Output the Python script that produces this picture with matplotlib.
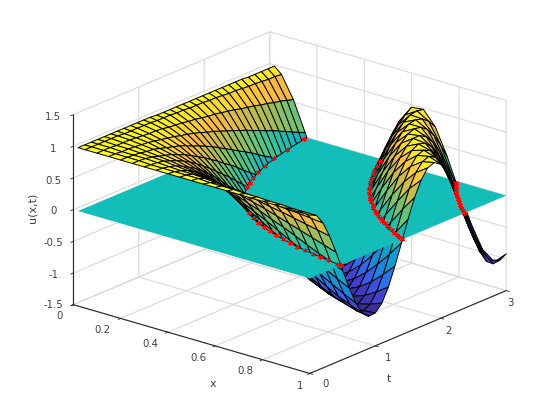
import numpy as np
import matplotlib
matplotlib.use("Agg")
import matplotlib.pyplot as plt
from matplotlib.colors import LinearSegmentedColormap, Normalize
from matplotlib.text import Text
from matplotlib.transforms import Affine2D
from mpl_toolkits.mplot3d.art3d import Poly3DCollection

x_values = [0.02, 0.05, 0.10, 0.15, 0.20, 0.25, 0.30, 0.35, 0.40, 0.45, 0.50,
            0.55, 0.60, 0.65, 0.70, 0.75, 0.80, 0.85, 0.90, 0.95, 1.00]
t_values = [0.0, 0.1, 0.2, 0.3, 0.4, 0.5, 0.6, 0.7, 0.8, 0.9, 1.0, 1.1, 1.2, 1.3, 1.4, 1.5,
            1.6, 1.7, 1.8, 1.9, 2.0, 2.1, 2.2, 2.3, 2.4, 2.5, 2.6, 2.7, 2.8, 2.9, 3.0]
# one row per t, one column per x
u_values = [
 [1,1,1,1,1,1,1,1,1,1,1,1,1,1,1,1,1,1,1,1,1],
 [1,1,1,1,1,1,.99,.99,.99,.99,.99,.98,.98,.98,.97,.97,.96,.96,.95,.95,.95],
 [1,1,1,.99,.99,.99,.98,.97,.96,.96,.95,.93,.92,.91,.89,.88,.86,.84,.83,.81,.79],
 [1,1,.99,.99,.98,.97,.96,.94,.92,.90,.88,.85,.83,.80,.77,.73,.70,.66,.62,.58,.54],
 [1,1,.99,.98,.96,.94,.92,.89,.86,.83,.79,.74,.70,.65,.60,.54,.48,.42,.36,.30,.24],
 [1,1,.99,.97,.95,.91,.88,.83,.79,.73,.67,.61,.54,.47,.39,.32,.24,.15,.07,-.01,-.09],
 [1,.99,.98,.96,.92,.88,.83,.77,.70,.62,.54,.45,.36,.27,.17,.07,-.03,-.13,-.22,-.32,-.41],
 [1,.99,.97,.94,.89,.83,.77,.69,.60,.50,.39,.28,.17,.06,-.06,-.18,-.29,-.40,-.50,-.60,-.69],
 [1,.99,.96,.92,.86,.79,.70,.60,.48,.36,.24,.10,-.03,-.16,-.29,-.41,-.53,-.64,-.74,-.82,-.89],
 [1,.99,.96,.90,.83,.73,.62,.50,.36,.22,.07,-.08,-.22,-.37,-.50,-.63,-.74,-.83,-.90,-.96,-.99],
 [1,.99,.95,.88,.79,.67,.54,.39,.24,.07,-.09,-.26,-.41,-.56,-.69,-.80,-.89,-.95,-.99,-1.0,-.98],
 [1,.98,.93,.85,.74,.61,.45,.28,.10,-.08,-.26,-.43,-.59,-.72,-.84,-.92,-.98,-1.0,-.99,-.94,-.87],
 [.99,.98,.92,.83,.70,.54,.36,.17,-.03,-.22,-.41,-.59,-.74,-.86,-.94,-.99,-1.0,-.97,-.90,-.79,-.66],
 [.99,.98,.91,.80,.65,.47,.27,.06,-.16,-.37,-.56,-.72,-.86,-.95,-.99,-.99,-.95,-.86,-.73,-.56,-.37],
 [.99,.97,.89,.77,.60,.39,.17,-.06,-.29,-.50,-.69,-.84,-.94,-.99,-.99,-.94,-.83,-.68,-.49,-.28,-.05],
 [.99,.97,.88,.73,.54,.32,.07,-.18,-.41,-.63,-.80,-.92,-.99,-.99,-.94,-.82,-.66,-.45,-.21,.03,.28],
 [.99,.96,.86,.70,.48,.24,-.03,-.29,-.53,-.74,-.89,-.98,-1.0,-.95,-.83,-.66,-.44,-.18,.08,.34,.58],
 [.99,.96,.84,.66,.42,.15,-.13,-.40,-.64,-.83,-.95,-1.0,-.97,-.86,-.68,-.45,-.18,.10,.37,.62,.81],
 [.99,.96,.83,.62,.36,.07,-.22,-.50,-.74,-.90,-.99,-.99,-.90,-.73,-.49,-.21,.08,.37,.63,.83,.96],
 [.99,.95,.81,.58,.30,-.01,-.32,-.60,-.82,-.96,-1.0,-.94,-.79,-.56,-.28,.03,.34,.62,.83,.96,1.0],
 [.99,.95,.79,.54,.24,-.09,-.41,-.69,-.89,-.99,-.98,-.87,-.66,-.37,-.05,.28,.58,.81,.96,1.0,.93],
 [.99,.94,.77,.50,.17,-.18,-.50,-.77,-.94,-1.0,-.94,-.76,-.49,-.17,.18,.51,.77,.94,1.0,.94,.76],
 [.99,.93,.74,.45,.10,-.26,-.59,-.84,-.98,-.99,-.87,-.63,-.31,.05,.40,.70,.91,1.0,.95,.78,.50],
 [.99,.93,.72,.41,.04,-.34,-.66,-.90,-1.0,-.95,-.77,-.48,-.12,.26,.60,.86,.99,.97,.82,.55,.19],
 [.99,.92,.70,.36,-.03,-.41,-.74,-.94,-1.0,-.90,-.66,-.31,.08,.46,.77,.96,.99,.87,.61,.26,-.14],
 [.99,.91,.67,.32,-.09,-.49,-.80,-.97,-.98,-.82,-.52,-.13,.28,.64,.90,1.0,.93,.70,.35,-.06,-.45],
 [.98,.91,.65,.27,-.16,-.56,-.86,-.99,-.95,-.73,-.37,.05,.46,.79,.98,.98,.80,.47,.06,-.36,-.72],
 [.98,.90,.62,.22,-.22,-.63,-.90,-1.0,-.90,-.62,-.21,.23,.63,.91,1.0,.90,.61,.21,-.24,-.64,-.91],
 [.98,.89,.60,.17,-.29,-.69,-.94,-.99,-.83,-.49,-.05,.40,.77,.98,.97,.76,.38,-.07,-.51,-.84,-.99],
 [.98,.89,.57,.12,-.35,-.75,-.97,-.97,-.75,-.36,.12,.56,.88,1.0,.89,.57,.13,-.35,-.74,-1.03,-.98],
 [.98,.88,.54,.07,-.41,-.80,-.99,-.94,-.66,-.21,.28,.70,.96,.98,.76,.35,-.14,-.59,-.96,-1.10,-.92],
]
# zero-crossing points marked in red
zero_x = [.16,.18,.20,.22,.24,.26,.28,.30,.46,.50,.54,.58,.62,.66,.70,.74,.78,.82,.86,.90,.94,.98,1.0,
          .48,.50,.52,.54,.56,.58,.60,.62,.64,.66,.68,.70,.72,.74,.76,.78,.80,.82,.84,.86,.88,.90,.92,.94,.96,.98,1.0,
          .80,.82,.84,.86,.88,.90,.92,.94,.96,.98,1.0]
zero_t = [2.94,2.61,2.35,2.14,1.96,1.81,1.68,1.57,1.02,.94,.87,.81,.76,.71,.67,.635,.60,.57,.55,.52,.50,.48,.47,
          2.95,2.83,2.72,2.62,2.53,2.44,2.36,2.28,2.21,2.14,2.08,2.02,1.97,1.91,1.86,1.81,1.77,1.73,1.68,1.65,1.61,1.57,1.54,1.51,1.47,1.44,1.415,
          2.95,2.88,2.81,2.74,2.68,2.62,2.57,2.51,2.46,2.41,2.36]
x_ticks = [0, 0.2, 0.4, 0.6, 0.8, 1]
t_ticks = [0, 1, 2, 3]
u_ticks = [-1.5, -1, -0.5, 0, 0.5, 1, 1.5]

parula = LinearSegmentedColormap.from_list("parula", [
    (0.00, (.21, .17, .53)), (0.08, (.26, .24, .80)), (0.17, (.20, .40, .93)),
    (0.25, (.10, .53, .88)), (0.375, (.04, .64, .80)), (0.50, (.075, .745, .725)),
    (0.625, (.30, .78, .52)), (0.75, (.68, .74, .30)), (0.875, (.98, .73, .24)),
    (1.00, (.98, .98, .08))])
norm = Normalize(-1, 1)
GREY = "#d9d9d9"
DARK = "#262626"
TEXT = "#404040"


def clip(poly, sign):
    out = []
    for i, p in enumerate(poly):
        q = poly[(i + 1) % len(poly)]
        a, b = sign * p[2], sign * q[2]
        if a >= 0:
            out.append(p)
        if (a > 0 and b < 0) or (a < 0 and b > 0):
            s = a / (a - b)
            out.append((p[0] + s * (q[0] - p[0]), p[1] + s * (q[1] - p[1]), 0.0))
    return out


def nudge(label, dx, dy):
    # Axis3D resets tick-label transforms on every draw, so pin the shifted one
    shifted = ax.transData + Affine2D().translate(dx, dy)
    label.set_transform = lambda _t: Text.set_transform(label, shifted)
    label.set_transform(None)


fig = plt.figure(figsize=(5.6, 4.2), dpi=100)
ax = fig.add_axes([0.0073, 0.0041, 1.0, 1.0], projection="3d")
ax.computed_zorder = False
ax.set_proj_type("ortho")
ax.view_init(elev=20.5, azim=-50.3)
ax.set_box_aspect((1, 1, 0.66), zoom=1.109)

U = np.array(u_values)
layers = {1: ([], []), -1: ([], [])}
for j in range(len(t_values) - 1):
    for i in range(len(x_values) - 1):
        cell = [(x_values[i], t_values[j], U[j, i]), (x_values[i + 1], t_values[j], U[j, i + 1]),
                (x_values[i + 1], t_values[j + 1], U[j + 1, i + 1]), (x_values[i], t_values[j + 1], U[j + 1, i])]
        col = parula(norm(np.mean([c[2] for c in cell])))
        for sign in (1, -1):
            part = clip(cell, sign)
            if len(part) >= 3:
                layers[sign][0].append(part)
                layers[sign][1].append(col)

below = Poly3DCollection(layers[-1][0], facecolors=layers[-1][1], edgecolors="k", linewidths=0.7, zorder=2)
plane = [[(x_values[0], t_values[0], 0), (x_values[-1], t_values[0], 0),
          (x_values[-1], t_values[-1], 0), (x_values[0], t_values[-1], 0)]]
sheet = Poly3DCollection(plane, facecolors=[parula(norm(0))], edgecolors="none", zorder=3)
above = Poly3DCollection(layers[1][0], facecolors=layers[1][1], edgecolors="k", linewidths=0.7, zorder=4)
for coll in (below, sheet, above):
    ax.add_collection3d(coll, autolim=False)
    coll.set_clip_on(False)
ax.plot(zero_x, zero_t, np.zeros(len(zero_x)), ls="", marker=(6, 2, 0), ms=3.5, mew=0.6, color="red",
        zorder=5, clip_on=False)

ax.set_xlim(0, 1, view_margin=0)
ax.set_ylim(0, 3, view_margin=0)
ax.set_zlim(-1.5, 1.5, view_margin=0)
ax.set_xticks(x_ticks)
ax.set_yticks(t_ticks)
ax.set_zticks(u_ticks)
ax.set_xticklabels(["0", "0.2", "0.4", "0.6", "0.8", "1"])
ax.set_yticklabels(["0", "1", "2", "3"])
ax.set_zticklabels(["-1.5", "-1", "-0.5", "0", "0.5", "1", "1.5"])
ax.zaxis.set_ticks_position("lower")
for axis in (ax.xaxis, ax.yaxis, ax.zaxis):
    axis.set_pane_color((1, 1, 1, 0))
    axis.pane.set_edgecolor(GREY)
    axis.line.set_color(DARK)
    axis.line.set_linewidth(0.8)
    axis._axinfo["grid"].update(color=GREY, linewidth=0.8)
    axis._axinfo["tick"].update(inward_factor=0.15, outward_factor=0.0, linewidth={True: 0.6, False: 0.4})
ax.tick_params(axis="both", labelsize=7.3, labelcolor=TEXT, color=DARK, pad=0)

# pixel nudges of the tick labels (right, up)
x_nudge = [(-4, 8), (-8, 7), (-8, 7), (-7, 7), (-7, 8), (0, 6)]
t_nudge = [(4, 8), (1, 6), (-4, 5), (-8, 6)]
u_nudge = [(2, 5), (2, 4), (2, 4), (2, 4), (2, 3), (2, 3), (2, 3)]
for axis, nudges in ((ax.xaxis, x_nudge), (ax.yaxis, t_nudge), (ax.zaxis, u_nudge)):
    for label, (dx, dy) in zip(axis.get_ticklabels(), nudges):
        nudge(label, dx, dy)

fig.text(213 / 560, 1 - 384 / 420, "x", fontsize=8, color=TEXT, ha="center", va="center")
fig.text(389 / 560, 1 - 379 / 420, "t", fontsize=8, color=TEXT, ha="center", va="center")
fig.text(33 / 560, 1 - 208 / 420, "u(x,t)", fontsize=8, color=TEXT, rotation=90, ha="center", va="center")

fig.savefig("out.png", dpi=100)
